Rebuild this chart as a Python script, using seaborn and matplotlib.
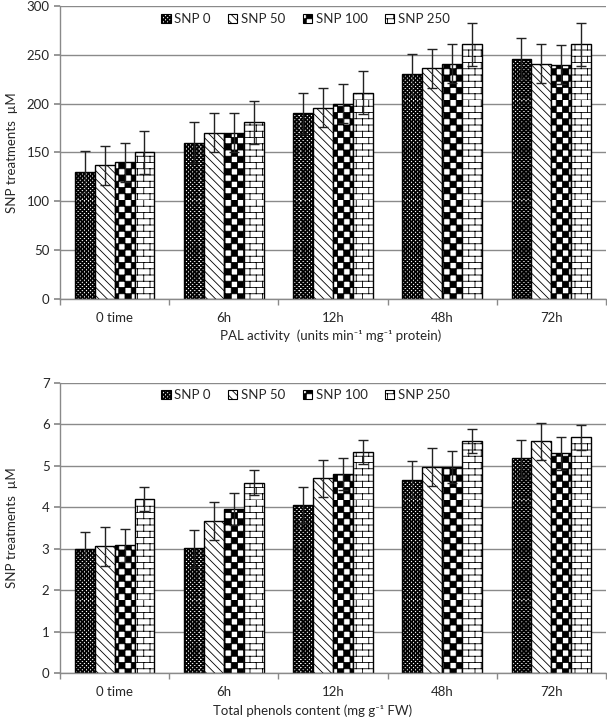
import warnings
import numpy as np
import pandas as pd
import matplotlib
matplotlib.use("Agg")
import matplotlib.pyplot as plt
import matplotlib.hatch as mhatch
from matplotlib.path import Path
from matplotlib.patches import Patch
import seaborn as sns

warnings.filterwarnings("ignore")

# -----------------------------------------------------------------------------
# data
times = ["0 time", "6h", "12h", "48h", "72h"]
treatments = ["SNP 0", "SNP 50", "SNP 100", "SNP 250"]

pal_snp0 = [130, 160, 190, 230, 246]
pal_snp50 = [137, 170, 196, 236, 241]
pal_snp100 = [140, 170, 200, 241, 240]
pal_snp250 = [150, 181, 211, 261, 261]
pal_err0 = [21, 21, 21, 21, 21]
pal_err50 = [20, 20, 20, 20, 20]
pal_err100 = [20, 20, 20, 20, 20]
pal_err250 = [22, 22, 22, 22, 22]

phe_snp0 = [3.00, 3.01, 4.05, 4.67, 5.18]
phe_snp50 = [3.06, 3.66, 4.70, 4.98, 5.59]
phe_snp100 = [3.08, 3.96, 4.81, 4.97, 5.30]
phe_snp250 = [4.20, 4.59, 5.34, 5.59, 5.69]
phe_err0 = [0.41, 0.44, 0.44, 0.45, 0.44]
phe_err50 = [0.47, 0.46, 0.45, 0.46, 0.45]
phe_err100 = [0.40, 0.38, 0.39, 0.39, 0.40]
phe_err250 = [0.28, 0.30, 0.29, 0.29, 0.30]


# -----------------------------------------------------------------------------
# extra hatch patterns: 'c' = checkerboard, 'b' = bricks
class CheckerHatch(mhatch.HatchPatternBase):
    def __init__(self, hatch, density):
        self.n = 4 * hatch.count("c")
        self.num_vertices = (self.n * self.n // 2) * 5

    def set_vertices_and_codes(self, vertices, codes):
        s = 1.0 / self.n
        k = 0
        for i in range(self.n):
            for j in range(self.n):
                if (i + j) % 2 == 0:
                    x, y = i * s, j * s
                    vertices[k:k + 5] = [[x, y], [x + s, y], [x + s, y + s], [x, y + s], [x, y]]
                    codes[k:k + 5] = [Path.MOVETO, Path.LINETO, Path.LINETO, Path.LINETO, Path.CLOSEPOLY]
                    k += 5


class BrickHatch(mhatch.HatchPatternBase):
    def __init__(self, hatch, density):
        self.rows = 8 * hatch.count("b")
        self.cols = self.rows // 2
        self.num_vertices = (self.rows + self.rows * self.cols) * 2

    def set_vertices_and_codes(self, vertices, codes):
        h = 1.0 / self.rows
        w = 1.0 / self.cols
        k = 0
        for r in range(self.rows):
            y = r * h
            vertices[k:k + 2] = [[0, y], [1, y]]
            codes[k:k + 2] = [Path.MOVETO, Path.LINETO]
            k += 2
            for c in range(self.cols):
                x = c * w + (r % 2) * w / 2
                vertices[k:k + 2] = [[x, y], [x, y + h]]
                codes[k:k + 2] = [Path.MOVETO, Path.LINETO]
                k += 2


mhatch._hatch_types.extend([CheckerHatch, BrickHatch])

hatches = ["c" * 12, "\\" * 4, "cccc", "bb"]

# -----------------------------------------------------------------------------
sns.set_theme(style="white")
plt.rcParams["font.family"] = ["Lato", "DejaVu Sans"]
plt.rcParams["hatch.linewidth"] = 0.6
plt.rcParams["hatch.color"] = "black"

text_col = "#262626"
grid_col = "#8a8a8a"


def make_df(series):
    rows = []
    for name, vals in zip(treatments, series):
        for t, v in zip(times, vals):
            rows.append({"time": t, "treatment": name, "value": v})
    return pd.DataFrame(rows)


def draw_panel(ax, series, errs, ymax, ystep, xlabel, xlabel_x, xlabel_y, legend_y):
    df = make_df(series)
    sns.barplot(data=df, x="time", y="value", hue="treatment", order=times,
                hue_order=treatments, palette=["white"] * 4, saturation=1,
                width=0.73, edgecolor="black", linewidth=1.0,
                errorbar=None, legend=False, ax=ax, zorder=2)

    for cont, hatch, err in zip(ax.containers, hatches, errs):
        xs, ys = [], []
        for bar in cont:
            bar.set_hatch(hatch)
            bar.set_edgecolor("black")
            xs.append(bar.get_x() + bar.get_width() / 2)
            ys.append(bar.get_height())
        ax.errorbar(xs, ys, yerr=err, fmt="none", ecolor="#222222",
                    elinewidth=1.0, capsize=3.5, capthick=1.0, zorder=3)

    ax.set_ylim(0, ymax)
    ax.set_yticks(np.arange(0, ymax + ystep / 2, ystep))
    ax.set_xlim(-0.5, len(times) - 0.5)
    ax.set_axisbelow(True)
    ax.yaxis.grid(True, color=grid_col, linewidth=1.0)
    ax.xaxis.grid(False)

    sns.despine(ax=ax, top=True, right=True)
    for side in ["left", "bottom"]:
        ax.spines[side].set_color(grid_col)
        ax.spines[side].set_linewidth(1.0)

    ax.tick_params(axis="y", which="major", direction="out", length=4,
                   color=grid_col, labelsize=9.5, labelcolor=text_col, left=True)
    ax.tick_params(axis="x", which="major", length=0, labelsize=9.5,
                   labelcolor=text_col, pad=9)
    ax.set_xticks(np.arange(-0.5, len(times)), minor=True)
    ax.tick_params(axis="x", which="minor", direction="out", length=4,
                   color=grid_col, bottom=True)

    ax.set_ylabel("SNP treatments  \u00b5M", fontsize=9.5, color=text_col)
    ax.yaxis.set_label_coords(-0.077, 0.5)
    ax.set_xlabel(xlabel, fontsize=9.5, color=text_col)
    ax.xaxis.set_label_coords(xlabel_x, xlabel_y)

    handles = [Patch(facecolor="white", edgecolor="black", hatch=h, linewidth=0.8)
               for h in hatches]
    ax.legend(handles, treatments, loc="center", bbox_to_anchor=(0.45, legend_y),
              ncol=4, frameon=False, fontsize=9.5, handlelength=0.7,
              handleheight=0.7, handletextpad=0.3, columnspacing=1.3,
              labelcolor=text_col)


fig = plt.figure(figsize=(6.07, 7.24), dpi=100)
ax1 = fig.add_axes([0.0988, 0.587, 0.8995, 0.4048])
ax2 = fig.add_axes([0.0988, 0.0704, 0.8995, 0.4006])

draw_panel(ax1, [pal_snp0, pal_snp50, pal_snp100, pal_snp250],
           [pal_err0, pal_err50, pal_err100, pal_err250],
           300, 50, "PAL activity  (units min\u207b\u00b9 mg\u207b\u00b9 protein)",
           0.495, -0.105, 0.955)
draw_panel(ax2, [phe_snp0, phe_snp50, phe_snp100, phe_snp250],
           [phe_err0, phe_err50, phe_err100, phe_err250],
           7, 1, "Total phenols content (mg g\u207b\u00b9 FW)",
           0.463, -0.11, 0.959)

fig.savefig("out.png", dpi=100)
